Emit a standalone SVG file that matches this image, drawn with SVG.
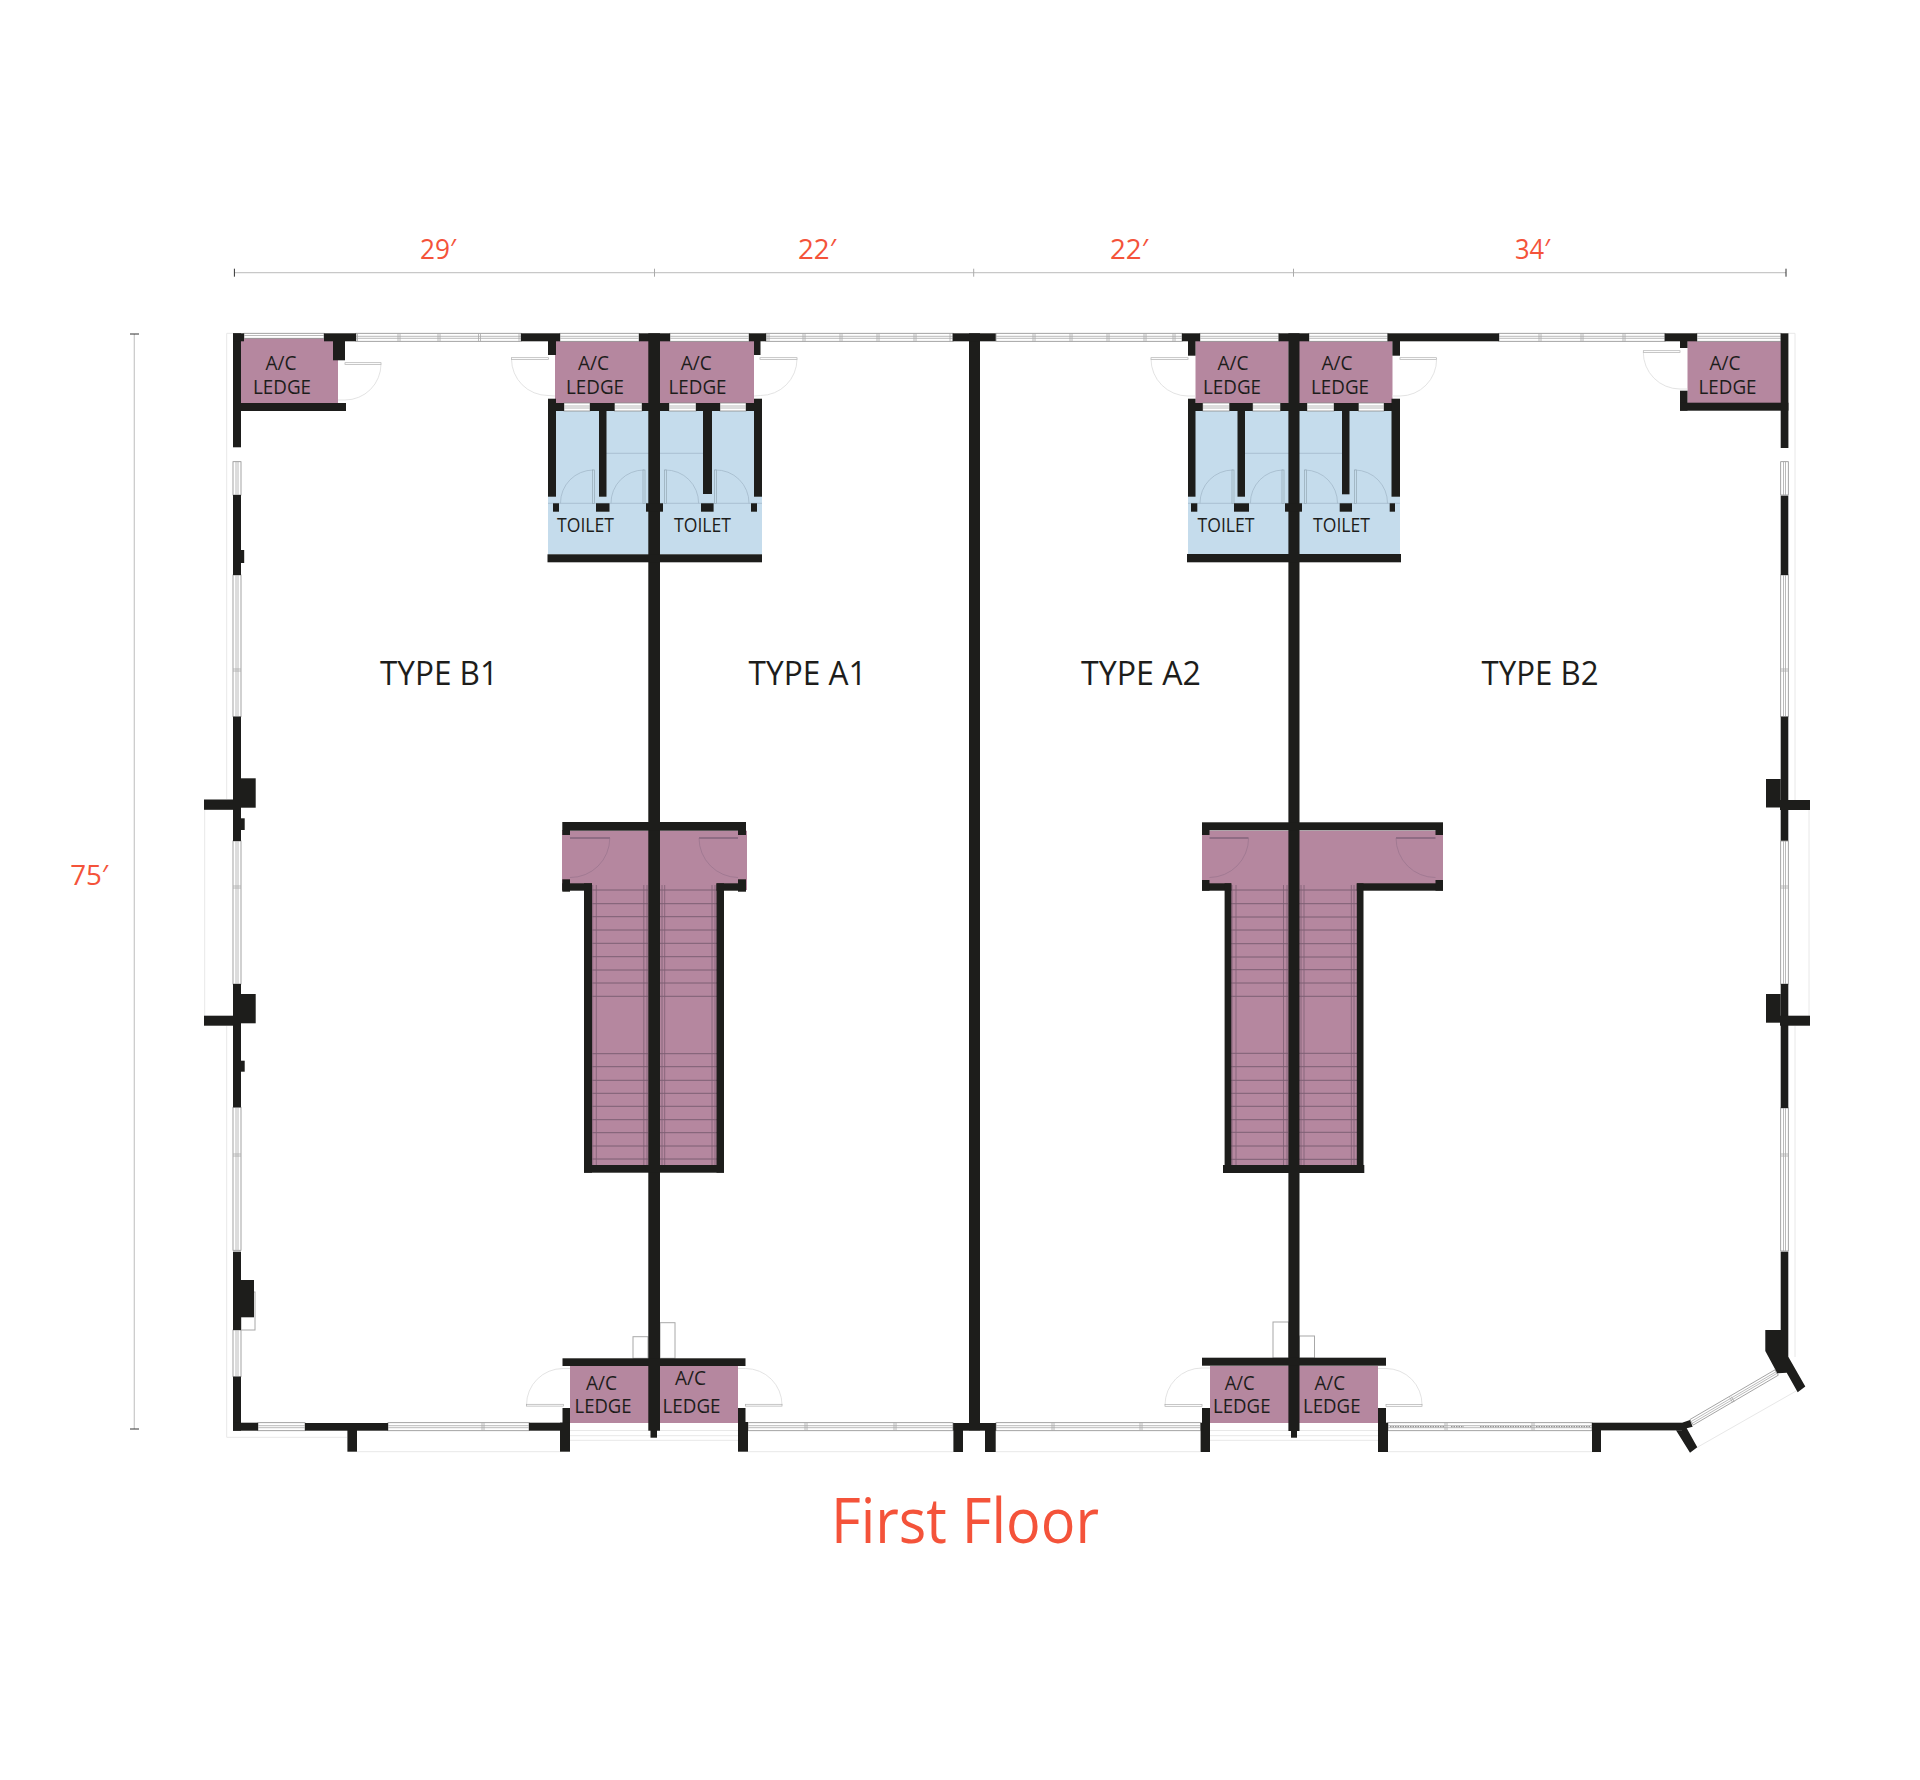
<svg xmlns="http://www.w3.org/2000/svg" width="1920" height="1780" viewBox="0 0 1920 1780">
<style>
.bg{fill:#fff}
.p{fill:#b5879f}
.b{fill:#c5dcec}
.k{fill:#1d1d1b}
.win{fill:#fff;stroke:#8c8c8c;stroke-width:.8}
.wl{fill:none;stroke:#a8a8a8;stroke-width:.8}
.wd{fill:none;stroke:#808080;stroke-width:1;stroke-dasharray:1.5 1}
.lt{fill:none;stroke:#e8e8e8;stroke-width:1}
.leaf{fill:#fff;stroke:#b0b0b0;stroke-width:.7}
.arc{fill:none;stroke:#dcdcdc;stroke-width:.8}
.dim{fill:none;stroke:#c8c8c8;stroke-width:1.2}
.tick{fill:none;stroke:#333;stroke-width:1}
.tick2{fill:none;stroke:#aaa;stroke-width:1}
.box{fill:#fff;stroke:#a8a8a8;stroke-width:1}
.st{fill:none;stroke:#7d5f73;stroke-width:1}
.rl{fill:none;stroke:#7d5f73;stroke-width:.8}
.sarc{fill:none;stroke:#94708a;stroke-width:.6}
.sleaf{fill:#8f6c84}
.tarc{fill:none;stroke:#9fb5c5;stroke-width:.7}
.tleaf{fill:#c5dcec;stroke:#94a8b5;stroke-width:.7}
text{font-family:"Open Sans","Noto Sans",sans-serif}
.lbl{font-size:19.2px;fill:#1d1d1b}
.ty{font-size:33px;fill:#1d1d1b}
.red{font-size:28px;fill:#f4533a}
.ttl{font-size:62px;fill:#f4533a}
</style>
<rect class="bg" width="1920" height="1780"/>

<g id="dimensions">
<path class="dim" d="M234.4 272.7H1786M134.3 334V1429"/>
<path class="tick" d="M234.4 268.7V276.7M1786 268.7V276.7M130 334H139M130 1429H139"/>
<path class="tick2" d="M654.5 268.7V276.7M973.7 268.7V276.7M1293.5 268.7V276.7"/>
<text class="red" x="420" y="259" textLength="36" lengthAdjust="spacingAndGlyphs">29′</text>
<text class="red" x="798" y="259" textLength="38" lengthAdjust="spacingAndGlyphs">22′</text>
<text class="red" x="1110" y="259" textLength="38" lengthAdjust="spacingAndGlyphs">22′</text>
<text class="red" x="1515" y="259" textLength="35" lengthAdjust="spacingAndGlyphs">34′</text>
<text class="red" x="70.2" y="885" textLength="38" lengthAdjust="spacingAndGlyphs">75′</text>
</g>

<g id="outer-lines">
<path class="lt" d="M233 333.3H226.7V799M204.7 810V1016M226.7 1026V1437.3H347M357 1451.7H560M748 1451.7H953M996 1451.7H1200M1388 1451.7H1592M570 1430.5H738M570 1435.7H738M570 1440.3H738M1210 1430.5H1378M1210 1435.7H1378M1210 1440.3H1378M1788 333.3H1795V800M1809 810V1016M1795 1026V1357M1697.3 1447.3L1796.7 1390.7M1601 1451.7H1592"/>
</g>

<g id="fills">
<rect class="p" x="241" y="338" width="97" height="65"/>
<rect class="p" x="555" y="341" width="94" height="62"/>
<rect class="p" x="660" y="341" width="94" height="62"/>
<rect class="p" x="1195.5" y="341" width="93" height="62"/>
<rect class="p" x="1299" y="341" width="93.5" height="62"/>
<rect class="p" x="1687.5" y="341" width="94" height="62"/>
<rect class="b" x="548" y="411" width="101" height="143.5"/>
<rect class="b" x="660" y="411" width="102" height="143.5"/>
<rect class="b" x="1188" y="411" width="101" height="143.5"/>
<rect class="b" x="1299" y="411" width="101" height="143.5"/>
<path class="p" d="M562 830.7H747V890H717V1166H592V890H562Z"/>
<path class="p" d="M1202 830.7H1443V890H1357V1166H1231V890H1202Z"/>
<rect class="p" x="570" y="1366" width="79" height="57"/>
<rect class="p" x="660" y="1366" width="78" height="57"/>
<rect class="p" x="1210" y="1366" width="79" height="57"/>
<rect class="p" x="1299" y="1366" width="79" height="57"/>
</g>

<g id="stairs">
<path class="st" d="M592 890H648M660 890H717M592 903.7H648M660 903.7H717M592 916.7H648M660 916.7H717M592 930H648M660 930H717M592 943.3H648M660 943.3H717M592 956.7H648M660 956.7H717M592 970H648M660 970H717M592 983H648M660 983H717M592 996.3H648M660 996.3H717M592 1053.7H648M660 1053.7H717M592 1066.7H648M660 1066.7H717M592 1080.3H648M660 1080.3H717M592 1093.3H648M660 1093.3H717M592 1106.3H648M660 1106.3H717M592 1119.7H648M660 1119.7H717M592 1132.7H648M660 1132.7H717M592 1146H648M660 1146H717M592 1159H648M660 1159H717"/>
<path class="rl" d="M592.7 885V1165M596.3 885V1165M643.8 885V1165M647 885V1165M662 885V1165M664.7 885V1165M712 885V1165M715 885V1165"/>
<path class="st" d="M1231 890H1288M1299 890H1357M1231 903.7H1288M1299 903.7H1357M1231 917H1288M1299 917H1357M1231 930H1288M1299 930H1357M1231 943.7H1288M1299 943.7H1357M1231 957H1288M1299 957H1357M1231 969.7H1288M1299 969.7H1357M1231 983H1288M1299 983H1357M1231 996.3H1288M1299 996.3H1357M1231 1053.3H1288M1299 1053.3H1357M1231 1066.7H1288M1299 1066.7H1357M1231 1080.3H1288M1299 1080.3H1357M1231 1093.3H1288M1299 1093.3H1357M1231 1106.3H1288M1299 1106.3H1357M1231 1119.7H1288M1299 1119.7H1357M1231 1132.3H1288M1299 1132.3H1357M1231 1146H1288M1299 1146H1357M1231 1159.3H1288M1299 1159.3H1357"/>
<path class="rl" d="M1232 885V1165M1236 885V1165M1283.5 885V1165M1287 885V1165M1301 885V1165M1304 885V1165M1351.3 885V1165M1354 885V1165"/>
<rect class="sleaf" x="570" y="837" width="40" height="2"/><rect class="sleaf" x="699" y="837" width="39" height="2"/>
<rect class="sleaf" x="1209.5" y="837" width="39" height="2"/><rect class="sleaf" x="1396" y="837" width="39.5" height="2"/>
<path class="sarc" d="M609.8 838A39.5 39.5 0 0 1 570 877.5M699 838A39.5 39.5 0 0 0 738 877.5M1248.6 838A39.5 39.5 0 0 1 1209.5 877.5M1396 838A39.5 39.5 0 0 0 1435.5 877.5"/>
</g>

<g id="toilet-details">
<path class="tarc" d="M606 453.3H703M1245 453.3H1342M548 503.3H649M660 503.3H762M1188 503.3H1289M1299 503.3H1400"/>
<path class="tarc" d="M593.4 470A33 33 0 0 0 560.5 503.3M644 470A33 33 0 0 0 611 503.3M665 470A33 33 0 0 1 698.6 503.3M715 470A33 33 0 0 1 749 503.3M1233 470A33 33 0 0 0 1200 503.3M1283 470A33 33 0 0 0 1250.4 503.3M1305 470A33 33 0 0 1 1337.5 503.3M1355 470A33 33 0 0 1 1387.5 503.3"/>
<rect class="tleaf" x="592.5" y="470" width="2" height="33.5"/><rect class="tleaf" x="643" y="470" width="2" height="33.5"/><rect class="tleaf" x="664.5" y="470" width="2" height="33.5"/><rect class="tleaf" x="714.5" y="470" width="2" height="33.5"/>
<rect class="tleaf" x="1232" y="470" width="2" height="33.5"/><rect class="tleaf" x="1282" y="470" width="2" height="33.5"/><rect class="tleaf" x="1304.5" y="470" width="2" height="33.5"/><rect class="tleaf" x="1354.5" y="470" width="2" height="33.5"/>
</g>

<g id="windows">
<rect class="win" x="244" y="333.3" width="80" height="5"/>
<rect class="win" x="356" y="333.3" width="165" height="8"/>
<rect class="win" x="560" y="333.3" width="79" height="8"/>
<rect class="win" x="670" y="333.3" width="79" height="8"/>
<rect class="win" x="766" y="333.3" width="187" height="8"/>
<rect class="win" x="996" y="333.3" width="186" height="8"/>
<rect class="win" x="1200" y="333.3" width="79" height="8"/>
<rect class="win" x="1309" y="333.3" width="79" height="8"/>
<rect class="win" x="1499" y="333.3" width="166" height="8"/>
<rect class="win" x="1697" y="333.3" width="84" height="8"/>
<path class="wl" d="M244 335.5H324M356 336.3H521M356 338.3H521M560 336.3H639M560 338.3H639M670 336.3H749M670 338.3H749M766 336.3H953M766 338.3H953M996 336.3H1182M996 338.3H1182M1200 336.3H1279M1200 338.3H1279M1309 336.3H1388M1309 338.3H1388M1499 336.3H1665M1499 338.3H1665M1697 336.3H1781M1697 338.3H1781"/>
<path class="wl" d="M398 333.3V341.3M400 333.3V341.3M438 333.3V341.3M440 333.3V341.3M478.5 333.3V341.3M480.5 333.3V341.3M519 333.3V341.3M357.5 333.3V341.3M803 333.3V341.3M805 333.3V341.3M840 333.3V341.3M842 333.3V341.3M877 333.3V341.3M879 333.3V341.3M914 333.3V341.3M916 333.3V341.3M950 333.3V341.3M1033 333.3V341.3M1035 333.3V341.3M1070 333.3V341.3M1072 333.3V341.3M1107 333.3V341.3M1109 333.3V341.3M1144 333.3V341.3M1146 333.3V341.3M1173 333.3V341.3M1175 333.3V341.3M1539 333.3V341.3M1541 333.3V341.3M1581 333.3V341.3M1583 333.3V341.3M1623 333.3V341.3M1625 333.3V341.3M767 333.3V341.3M769 333.3V341.3"/>
<rect class="win" x="564" y="403" width="26" height="8"/><rect class="win" x="614.5" y="403" width="27.5" height="8"/><rect class="win" x="669" y="403" width="27" height="8"/><rect class="win" x="720" y="403" width="26" height="8"/>
<rect class="win" x="1202.7" y="403" width="26.8" height="8"/><rect class="win" x="1252.7" y="403" width="27.7" height="8"/><rect class="win" x="1307" y="403" width="27" height="8"/><rect class="win" x="1358.5" y="403" width="25.5" height="8"/>
<path class="wl" d="M564 406H590M564 408H590M614.5 406H642M614.5 408H642M669 406H696M669 408H696M720 406H746M720 408H746M1202.7 406H1229.5M1202.7 408H1229.5M1252.7 406H1280.4M1252.7 408H1280.4M1307 406H1334M1307 408H1334M1358.5 406H1384M1358.5 408H1384"/>
<rect class="win" x="233" y="461.7" width="8" height="33.3"/><rect class="win" x="233" y="575" width="8" height="141.7"/><rect class="win" x="233" y="841" width="8" height="143"/><rect class="win" x="233" y="1107.3" width="8" height="143"/><rect class="win" x="233" y="1330" width="8" height="46.7"/>
<rect class="win" x="1780.7" y="461.7" width="7.6" height="33.3"/><rect class="win" x="1780.7" y="575" width="7.6" height="141.7"/><rect class="win" x="1780.7" y="841" width="7.6" height="143"/><rect class="win" x="1780.7" y="1108" width="7.6" height="143"/>
<path class="wl" d="M236 461.7V495M238 461.7V495M236 575V716.7M238 575V716.7M236 841V984M238 841V984M236 1107.3V1250M238 1107.3V1250M236 1330V1376.7M238 1330V1376.7M1783.5 461.7V495M1785.5 461.7V495M1783.5 575V716.7M1785.5 575V716.7M1783.5 841V984M1785.5 841V984M1783.5 1108V1251M1785.5 1108V1251"/>
<path class="wl" d="M233 669H241M233 671H241M233 886H241M233 888H241M233 1154H241M233 1156H241M1780.7 669H1788.3M1780.7 671H1788.3M1780.7 886H1788.3M1780.7 888H1788.3M1780.7 1154H1788.3M1780.7 1156H1788.3"/>
<rect class="win" x="258" y="1422.7" width="47" height="8"/><rect class="win" x="388" y="1422.7" width="141" height="8"/><rect class="win" x="748" y="1422.7" width="205" height="8"/><rect class="win" x="996" y="1422.7" width="204.6" height="8"/><rect class="win" x="1388" y="1422.7" width="204" height="8"/>
<path class="wl" d="M258 1425.7H305M258 1427.7H305M388 1425.7H529M388 1427.7H529M748 1425.7H953M748 1427.7H953M996 1425.7H1200.6M996 1427.7H1200.6M1388 1425.7H1592M1388 1427.7H1592"/>
<path class="wd" d="M1390 1426.7H1445M1451 1426.7H1464M1480 1426.7H1532M1536 1426.7H1591"/>
<path class="wl" d="M482 1422.7V1430.7M484 1422.7V1430.7M805 1422.7V1430.7M807 1422.7V1430.7M894 1422.7V1430.7M896 1422.7V1430.7M1052 1422.7V1430.7M1054 1422.7V1430.7M1140 1422.7V1430.7M1142 1422.7V1430.7M1445 1422.7V1430.7M1447 1422.7V1430.7M1532 1422.7V1430.7M1534 1422.7V1430.7"/>
<path class="win" d="M1775 1369.8L1778.3 1375.2L1693.3 1425L1690 1419.5Z"/>
<path class="wl" d="M1776 1371.8L1692 1421M1777 1373.3L1692.8 1423M1729.7 1397.5L1732.7 1402.5M1731.3 1396.7L1734.3 1401.7"/>
</g>

<g id="doors">
<path class="arc" d="M381 364A36 36 0 0 1 345 400L338 400M511.5 359A36.5 36.5 0 0 0 548 395.5L555 396M797 359A36.5 36.5 0 0 1 760.5 395.5L754 396M1151 359A37 37 0 0 0 1188 396L1195.5 396M1436.6 359A36.6 36.6 0 0 1 1400 396L1392 396M1643.3 352A36.7 36.7 0 0 0 1680 389L1687.5 389"/>
<path class="arc" d="M526.5 1405A36.5 36.5 0 0 1 563 1368.5L570 1368.5M782 1405A36.5 36.5 0 0 0 745.5 1368.5L738 1368.5M1165 1405A37 37 0 0 1 1202 1368L1210 1368M1422 1405A36 36 0 0 0 1386 1368.5L1378 1368.5"/>
<rect class="leaf" x="345" y="362.7" width="36" height="1.8"/><rect class="leaf" x="511.5" y="357.7" width="37" height="1.8"/><rect class="leaf" x="760" y="357.7" width="37" height="1.8"/>
<rect class="leaf" x="1151" y="357.7" width="37" height="1.8"/><rect class="leaf" x="1400" y="357.7" width="36.6" height="1.8"/><rect class="leaf" x="1643.3" y="350.7" width="36.7" height="1.8"/>
<rect class="leaf" x="526.5" y="1404.3" width="37" height="1.8"/><rect class="leaf" x="745.5" y="1404.3" width="36.5" height="1.8"/><rect class="leaf" x="1165" y="1404.5" width="37" height="1.8"/><rect class="leaf" x="1386" y="1404.5" width="36" height="1.8"/>
</g>

<g id="bays">
<rect class="box" x="633" y="1336.7" width="15" height="21.6"/>
<rect class="box" x="660" y="1322.7" width="15" height="35.6"/>
<rect class="box" x="1273" y="1322" width="15.5" height="36"/>
<rect class="box" x="1299.5" y="1336" width="15" height="22"/>
<rect class="box" x="241" y="1292" width="14" height="38"/>
</g>

<g id="walls" class="k">
<rect x="233" y="333.3" width="8" height="114"/><rect x="233" y="333.3" width="11" height="8"/>
<rect x="233" y="495" width="8" height="80"/><rect x="241" y="550" width="3.2" height="13"/>
<rect x="233" y="716.7" width="8" height="124.3"/><rect x="241" y="778.3" width="14.7" height="29.4"/><rect x="204" y="799.5" width="30" height="10.3"/><rect x="241" y="818.3" width="3.7" height="11.7"/>
<rect x="233" y="984" width="8" height="123.3"/><rect x="241" y="994" width="14.7" height="29.3"/><rect x="204" y="1015.7" width="30" height="10"/><rect x="241" y="1060.7" width="3.7" height="11"/>
<rect x="233" y="1251.7" width="8" height="78.3"/><rect x="241" y="1280" width="13" height="37.3"/>
<rect x="233" y="1376.7" width="8" height="54"/><rect x="233" y="1422.7" width="25" height="8"/><rect x="305" y="1423" width="83" height="7.7"/><rect x="347.4" y="1430" width="9.6" height="21.7"/>
<rect x="241" y="403" width="105" height="8"/><rect x="324" y="333.3" width="32" height="8"/><rect x="333" y="341" width="12" height="19.3"/>
<rect x="521" y="333.3" width="39" height="8"/><rect x="548" y="341" width="8" height="14"/>
<rect x="639" y="333.3" width="31" height="8"/><rect x="749" y="333.3" width="17" height="8"/><rect x="754" y="341" width="6.5" height="14"/>
<rect x="648.3" y="333.3" width="11.7" height="1097.4"/><rect x="650.5" y="1430" width="6.5" height="7.7"/>
<rect x="548" y="398.7" width="8" height="98"/><rect x="548" y="403" width="16" height="8"/><rect x="590" y="403" width="24.5" height="8"/><rect x="642" y="403" width="27" height="8"/><rect x="696" y="403" width="24" height="8"/><rect x="746" y="403" width="16" height="8"/>
<rect x="599" y="411" width="7.5" height="85.7"/><rect x="703" y="411" width="9" height="83"/><rect x="754" y="398.7" width="8" height="98"/>
<rect x="553" y="503.3" width="6" height="8.4"/><rect x="596" y="503.3" width="13.5" height="8.4"/><rect x="646" y="503.3" width="17" height="8.4"/><rect x="701" y="503.3" width="12.6" height="8.4"/><rect x="751" y="503.3" width="6" height="8.4"/>
<rect x="547.5" y="554.3" width="214.5" height="8"/>
<rect x="562.3" y="822" width="183.7" height="8.7"/><rect x="562.3" y="830" width="7.7" height="5"/><rect x="738" y="830" width="8" height="5"/>
<rect x="562.3" y="883.3" width="29.7" height="7.4"/><rect x="562.3" y="879.3" width="7.7" height="12.4"/><rect x="716.5" y="883.3" width="29.5" height="7.4"/><rect x="738" y="879.3" width="8" height="12.4"/>
<rect x="584" y="883.3" width="8" height="289.4"/><rect x="716.5" y="883.3" width="7.5" height="289.4"/><rect x="584" y="1165" width="140" height="7.7"/>
<rect x="562.5" y="1358.3" width="183" height="7.7"/>
<rect x="529" y="1422.7" width="35" height="8"/><rect x="562.5" y="1408" width="7.5" height="20"/><rect x="560" y="1422.7" width="10" height="29"/>
<rect x="738" y="1408" width="7.5" height="25"/><rect x="738" y="1422" width="10" height="29.7"/>
<rect x="969" y="333.3" width="11" height="1097"/><rect x="952.7" y="333.3" width="43" height="8"/><rect x="953.4" y="1423" width="42.3" height="7.7"/><rect x="953.4" y="1423" width="9.6" height="29"/><rect x="985" y="1423" width="10.7" height="29"/>
<rect x="1182" y="333.3" width="18" height="8"/><rect x="1188" y="341" width="7.5" height="14.7"/>
<rect x="1278.6" y="333.3" width="30.4" height="8"/><rect x="1387.5" y="333.3" width="111.5" height="8"/><rect x="1392.4" y="341" width="7.6" height="14.7"/>
<rect x="1288.4" y="333.3" width="11.1" height="1097.7"/><rect x="1291" y="1430" width="6" height="7.7"/>
<rect x="1188" y="398.7" width="7.5" height="98"/><rect x="1188" y="403" width="14.7" height="8"/><rect x="1229.5" y="403" width="23.2" height="8"/><rect x="1280.4" y="403" width="26.6" height="8"/><rect x="1334" y="403" width="24.5" height="8"/><rect x="1384" y="403" width="16" height="8"/>
<rect x="1237.5" y="411" width="7.5" height="85.7"/><rect x="1342" y="411" width="7.5" height="83.3"/><rect x="1391.5" y="398.7" width="8.5" height="98"/>
<rect x="1191" y="503.3" width="6.3" height="8.4"/><rect x="1234" y="503.3" width="15" height="8.4"/><rect x="1285" y="503.3" width="17" height="8.4"/><rect x="1339.7" y="503.3" width="12.3" height="8.4"/><rect x="1389.7" y="503.3" width="5.3" height="8.4"/>
<rect x="1187" y="554" width="214" height="8.3"/>
<rect x="1202" y="822.3" width="241" height="8"/><rect x="1202" y="830" width="7.5" height="5"/><rect x="1435.5" y="830" width="7.5" height="5"/>
<rect x="1202" y="883.3" width="29.3" height="7.4"/><rect x="1202" y="880" width="7.5" height="10.7"/><rect x="1356.8" y="883.3" width="86.2" height="7.4"/><rect x="1435.5" y="880" width="7.5" height="10.7"/>
<rect x="1224.6" y="883.3" width="6.7" height="289.7"/><rect x="1356.8" y="883.3" width="6.7" height="289.7"/><rect x="1223" y="1165" width="141.3" height="8"/>
<rect x="1202" y="1357.7" width="184" height="8"/>
<rect x="1200.6" y="1422.7" width="9.4" height="29.3"/><rect x="1202" y="1408" width="8" height="20"/><rect x="1378" y="1408" width="8" height="20"/><rect x="1378" y="1422.7" width="10" height="29.3"/>
<rect x="1592" y="1422.7" width="90" height="7.7"/><rect x="1592" y="1423" width="9" height="29"/>
<path d="M1682 1422.7L1690 1420L1692.7 1426.7L1686.7 1428.3L1697.3 1447.3L1690 1452.7L1676 1430.3L1682 1430.3Z"/>
<rect x="1664.7" y="333.3" width="32.3" height="8"/><rect x="1680" y="341" width="7.5" height="7"/><rect x="1680" y="390.7" width="7.5" height="20"/><rect x="1680" y="402.7" width="108.4" height="8"/>
<rect x="1780.7" y="333.3" width="7.7" height="114.7"/>
<rect x="1780.7" y="495.7" width="7.6" height="79.3"/>
<rect x="1780.7" y="716.7" width="7.6" height="124"/><rect x="1766" y="779" width="14.7" height="28.5"/><rect x="1788" y="800" width="22" height="10"/><rect x="1780" y="800" width="9" height="10"/>
<rect x="1780.7" y="984" width="7.6" height="124"/><rect x="1766" y="994" width="14.7" height="28.7"/><rect x="1780" y="1015.7" width="30" height="10"/>
<path d="M1780.7 1251.7H1788.3V1356.7L1805.3 1386.5L1797.7 1392.2L1786.7 1372.7L1777.3 1373.3L1765.3 1351V1330H1780.7Z"/>
</g>

<g id="labels">
<text class="lbl" x="265.5" y="369.5" textLength="31" lengthAdjust="spacingAndGlyphs">A/C</text>
<text class="lbl" x="253" y="394" textLength="58" lengthAdjust="spacingAndGlyphs">LEDGE</text>
<text class="lbl" x="578" y="369.5" textLength="31" lengthAdjust="spacingAndGlyphs">A/C</text>
<text class="lbl" x="566" y="394" textLength="58" lengthAdjust="spacingAndGlyphs">LEDGE</text>
<text class="lbl" x="680.7" y="369.5" textLength="31" lengthAdjust="spacingAndGlyphs">A/C</text>
<text class="lbl" x="668.5" y="394" textLength="58" lengthAdjust="spacingAndGlyphs">LEDGE</text>
<text class="lbl" x="1217.5" y="369.5" textLength="31" lengthAdjust="spacingAndGlyphs">A/C</text>
<text class="lbl" x="1203" y="394" textLength="58" lengthAdjust="spacingAndGlyphs">LEDGE</text>
<text class="lbl" x="1321.4" y="369.5" textLength="31" lengthAdjust="spacingAndGlyphs">A/C</text>
<text class="lbl" x="1311" y="394" textLength="58" lengthAdjust="spacingAndGlyphs">LEDGE</text>
<text class="lbl" x="1709.5" y="369.5" textLength="31" lengthAdjust="spacingAndGlyphs">A/C</text>
<text class="lbl" x="1698.5" y="394" textLength="58" lengthAdjust="spacingAndGlyphs">LEDGE</text>
<text class="lbl" x="557" y="531.5" textLength="57" lengthAdjust="spacingAndGlyphs">TOILET</text>
<text class="lbl" x="674" y="531.5" textLength="57" lengthAdjust="spacingAndGlyphs">TOILET</text>
<text class="lbl" x="1197.5" y="531.5" textLength="57" lengthAdjust="spacingAndGlyphs">TOILET</text>
<text class="lbl" x="1313" y="531.5" textLength="57" lengthAdjust="spacingAndGlyphs">TOILET</text>
<text class="ty" x="380" y="685.3" textLength="118" lengthAdjust="spacingAndGlyphs">TYPE B1</text>
<text class="ty" x="748.6" y="685.3" textLength="118" lengthAdjust="spacingAndGlyphs">TYPE A1</text>
<text class="ty" x="1081" y="685.3" textLength="120" lengthAdjust="spacingAndGlyphs">TYPE A2</text>
<text class="ty" x="1481.6" y="685.3" textLength="117" lengthAdjust="spacingAndGlyphs">TYPE B2</text>
<text class="lbl" x="586" y="1390" textLength="31" lengthAdjust="spacingAndGlyphs">A/C</text>
<text class="lbl" x="574.5" y="1412.5" textLength="57" lengthAdjust="spacingAndGlyphs">LEDGE</text>
<text class="lbl" x="675" y="1385.3" textLength="31" lengthAdjust="spacingAndGlyphs">A/C</text>
<text class="lbl" x="662.5" y="1412.5" textLength="58" lengthAdjust="spacingAndGlyphs">LEDGE</text>
<text class="lbl" x="1224.7" y="1390" textLength="30" lengthAdjust="spacingAndGlyphs">A/C</text>
<text class="lbl" x="1213" y="1412.5" textLength="57.5" lengthAdjust="spacingAndGlyphs">LEDGE</text>
<text class="lbl" x="1314.5" y="1390" textLength="30.5" lengthAdjust="spacingAndGlyphs">A/C</text>
<text class="lbl" x="1303" y="1412.5" textLength="57.5" lengthAdjust="spacingAndGlyphs">LEDGE</text>
<text class="ttl" x="831" y="1543" textLength="268" lengthAdjust="spacingAndGlyphs">First Floor</text>
</g>
</svg>
